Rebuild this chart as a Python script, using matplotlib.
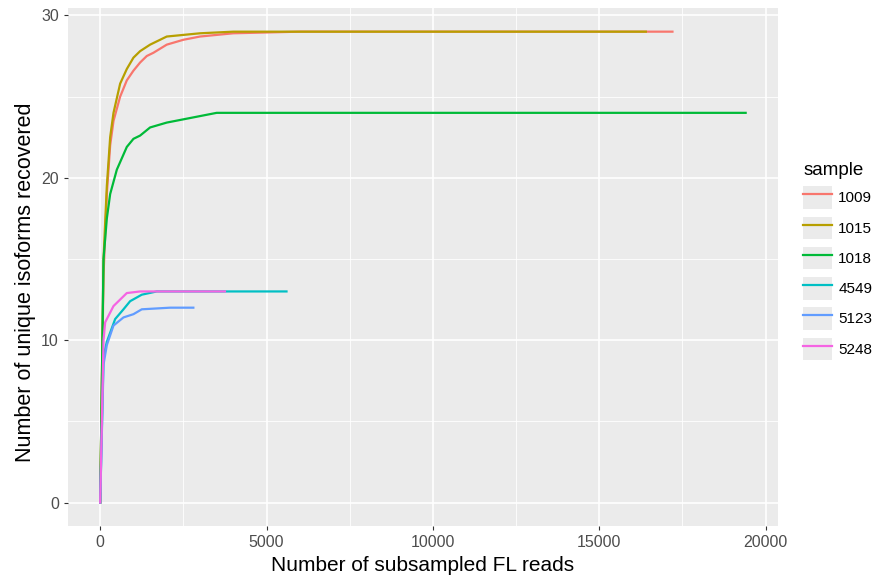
import matplotlib
matplotlib.use("Agg")
import matplotlib.pyplot as plt
from matplotlib.patches import Patch
from matplotlib.legend_handler import HandlerTuple

plt.rcParams['font.family'] = ['Liberation Sans', 'DejaVu Sans']

# sample ids and ggplot hue colours
samples = ['1009', '1015', '1018', '4549', '5123', '5248']
colors = ['#F8766D', '#B79F00', '#00BA38', '#00BFC4', '#619CFF', '#F564E3']

# subsampled read counts (x) and unique isoforms recovered (y)
x_1009 = [0, 100, 200, 300, 400, 600, 800, 1000, 1200, 1400, 1600, 2000, 2500, 3000, 3500, 4000, 5000, 6000, 17200]
y_1009 = [0, 14, 19, 22, 23.5, 25, 26, 26.6, 27.1, 27.5, 27.7, 28.2, 28.5, 28.7, 28.8, 28.9, 28.95, 29, 29]
x_1015 = [0, 100, 200, 300, 400, 600, 800, 1000, 1200, 1500, 2000, 2500, 3000, 4000, 16400]
y_1015 = [0, 15, 19.5, 22.5, 24, 25.8, 26.7, 27.4, 27.8, 28.2, 28.7, 28.8, 28.9, 29, 29]
x_1018 = [0, 100, 200, 300, 500, 800, 1000, 1200, 1500, 2000, 2500, 3000, 3500, 19400]
y_1018 = [0, 15, 17.5, 19, 20.5, 21.9, 22.4, 22.6, 23.1, 23.4, 23.6, 23.8, 24, 24]
x_4549 = [0, 100, 200, 450, 700, 900, 1250, 1700, 5600]
y_4549 = [0, 9, 9.9, 11.3, 11.9, 12.4, 12.8, 13, 13]
x_5123 = [0, 100, 200, 400, 700, 1000, 1250, 2100, 2800]
y_5123 = [0, 8.5, 9.7, 10.9, 11.4, 11.6, 11.9, 12, 12]
x_5248 = [0, 100, 150, 400, 800, 1200, 3750]
y_5248 = [0, 10, 11.1, 12.1, 12.9, 13, 13]

xs = [x_1009, x_1015, x_1018, x_4549, x_5123, x_5248]
ys = [y_1009, y_1015, y_1018, y_4549, y_5123, y_5248]

x_ticks = [0, 5000, 10000, 15000, 20000]
y_ticks = [0, 10, 20, 30]

fig = plt.figure(figsize=(8.82, 5.8), dpi=100)
ax = fig.add_axes([0.077, 0.093, 0.805, 0.893])
ax.set_facecolor('#EBEBEB')

handles = []
for s, c, x, y in zip(samples, colors, xs, ys):
    line, = ax.plot(x, y, color=c, lw=1.6, label=s)
    handles.append((Patch(facecolor='#EBEBEB', edgecolor='none'), line))

# ggplot-like grid
xmax = max(max(x) for x in xs)
ymax = max(max(y) for y in ys)
ax.set_xlim(-0.05 * xmax, 1.05 * xmax)
ax.set_ylim(-0.05 * ymax, 1.05 * ymax)
ax.set_xticks(x_ticks)
ax.set_yticks(y_ticks)
ax.set_xticks([2500, 7500, 12500, 17500], minor=True)
ax.set_yticks([5, 15, 25], minor=True)
ax.grid(which='major', color='white', lw=1.2)
ax.grid(which='minor', color='white', lw=0.6)
ax.set_axisbelow(True)
for sp in ax.spines.values():
    sp.set_visible(False)
ax.tick_params(which='major', length=3, color='#333333', labelsize=11.5, labelcolor='#4D4D4D')
ax.tick_params(which='minor', length=0)

ax.set_xlabel('Number of subsampled FL reads', fontsize=15, labelpad=4)
ax.set_ylabel('Number of unique isoforms recovered', fontsize=15.5)
ax.yaxis.set_label_coords(-0.045, 0.47)

leg = fig.legend(handles, samples, handler_map={tuple: HandlerTuple(ndivide=1, pad=0)},
                 loc='upper left', bbox_to_anchor=(0.895, 0.745), frameon=False,
                 title='sample', title_fontsize=13.5, fontsize=11,
                 handlelength=1.9, handleheight=1.9, labelspacing=0.5,
                 handletextpad=0.4, alignment='left')

plt.savefig('out.png', dpi=100)
